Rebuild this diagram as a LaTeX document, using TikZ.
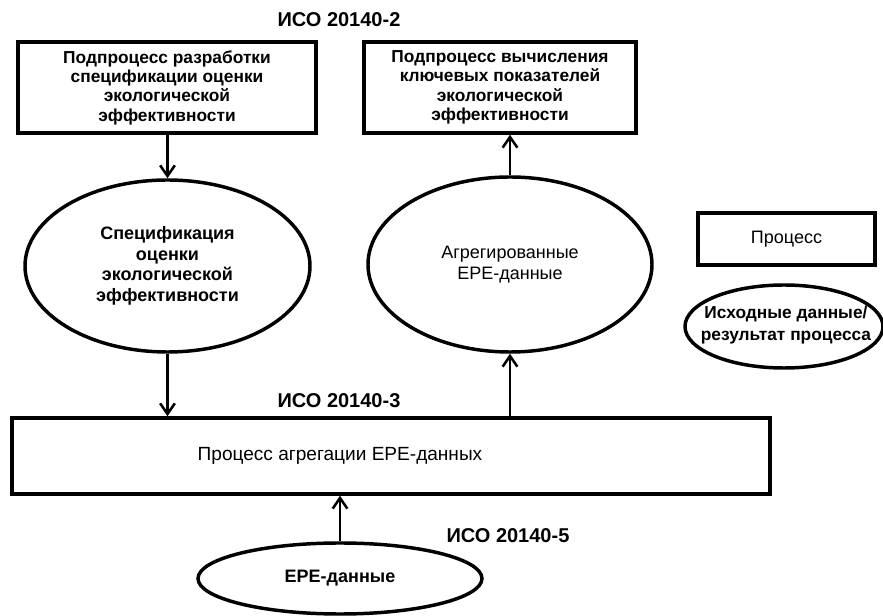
\documentclass[tikz,border=0pt]{standalone}
\usepackage{fontspec}
\setmainfont{Liberation Sans}
\usetikzlibrary{shapes.geometric,arrows.meta}
\begin{document}
\begin{tikzpicture}[x=0.75pt,y=-0.75pt,
  procbox/.style={draw,line width=2.6pt,inner sep=0pt,align=center},
  dataell/.style={draw,ellipse,line width=2.6pt,inner sep=0pt,align=center},
  boxtxt/.style={font=\fontsize{13pt}{14.5pt}\selectfont\bfseries},
  elltxt/.style={font=\fontsize{13.5pt}{15.5pt}\selectfont\bfseries},
  thintxt/.style={font=\fontsize{13.5pt}{16pt}\selectfont},
  legtxt/.style={font=\fontsize{13pt}{16.5pt}\selectfont\bfseries,align=center,inner sep=0pt},
  isolbl/.style={font=\fontsize{15pt}{16pt}\selectfont\bfseries},
  conn/.style={line width=1.9pt,-{Straight Barb[length=8pt,width=11pt,line width=1.9pt]}}]
\useasboundingbox (0,0) rectangle (883,616);
\node[isolbl] (iso2) at (339,20) {ИСО 20140-2};
\node[procbox,boxtxt,minimum width=223.5pt,minimum height=68.25pt] (b1) at (167,87.5)
  {Подпроцесс разработки\\спецификации оценки\\экологической\\эффективности};
\node[procbox,boxtxt,minimum width=204pt,minimum height=68.25pt] (b2) at (500,87.5)
  {Подпроцесс вычисления\\ключевых показателей\\экологической\\эффективности};
\node[dataell,elltxt,minimum width=213.75pt,minimum height=129pt] (e1) at (167.5,266)
  {Спецификация\\оценки\\экологической\\эффективности};
\node[dataell,thintxt,minimum width=213pt,minimum height=131.25pt] (e2) at (510,264.5)
  {Агрегированные\\EPE-данные};
\node[isolbl] (iso3) at (339,401) {ИСО 20140-3};
\node[procbox,minimum width=568.5pt,minimum height=57pt] (big) at (391,456) {};
\node[thintxt,font=\fontsize{14.3pt}{16pt}\selectfont] (bigt) at (340,456) {Процесс агрегации EPE-данных};
\node[isolbl] (iso5) at (508,536) {ИСО 20140-5};
\node[dataell,elltxt,minimum width=213pt,minimum height=53.25pt] (e3) at (340,578.5) {EPE-данные};
\node[procbox,thintxt,minimum width=132.75pt,minimum height=39pt] (lb) at (786.5,239) {Процесс};
\node[dataell,minimum width=148.5pt,minimum height=62.25pt] (le) at (784,326.5) {};
\node[legtxt] (let) at (786,325) {Исходные данные/\\результат процесса};
\draw[conn] (e1.north |- b1.south) -- (e1.north);
\draw[conn] (e1.south) -- (e1.south |- big.north);
\draw[conn] (e2.south |- big.north) -- (e2.south);
\draw[conn] (e2.north) -- (e2.north |- b2.south);
\draw[conn] (e3.north) -- (e3.north |- big.south);
\end{tikzpicture}
\end{document}
